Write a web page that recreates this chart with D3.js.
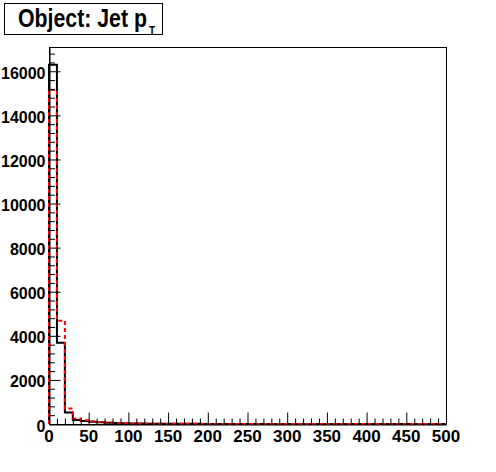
<!DOCTYPE html>
<html>
<head>
<meta charset="utf-8">
<script src="https://cdn.jsdelivr.net/npm/d3@7"></script>
<style>
  body { margin: 0; background: #fff; }
  svg { display: block; }
  text { font-family: "Liberation Sans", Arial, Helvetica, sans-serif; font-weight: bold; }
</style>
</head>
<body>
<div id="chart"></div>
<script>
// histogram bins: lower edges, 10 GeV wide
var binLow = [0, 10, 20, 30, 40, 50, 60, 70, 80, 90,
    100, 110, 120, 130, 140, 150, 160, 170, 180, 190,
    200, 210, 220, 230, 240, 250, 260, 270, 280, 290,
    300, 310, 320, 330, 340, 350, 360, 370, 380, 390,
    400, 410, 420, 430, 440, 450, 460, 470, 480, 490];

// black solid histogram
var blackCounts = [16300, 3690, 520, 185, 136, 104, 77, 59, 45, 32,
    25, 20, 17, 14, 12, 10, 8, 7, 6, 5,
    5, 4, 3, 3, 3, 2, 2, 2, 2, 2,
    1, 1, 1, 1, 1, 1, 1, 1, 1, 1,
    1, 0, 0, 0, 0, 0, 0, 0, 0, 0];

// red dashed histogram
var redCounts = [15150, 4685, 700, 245, 170, 122, 90, 68, 48, 36,
    28, 22, 18, 15, 13, 11, 9, 8, 7, 6,
    5, 4, 4, 3, 3, 3, 2, 2, 2, 2,
    2, 1, 1, 1, 1, 1, 1, 1, 1, 1,
    1, 1, 1, 0, 0, 0, 0, 0, 0, 0];

var xTicks = [0, 50, 100, 150, 200, 250, 300, 350, 400, 450, 500];
var yTicks = [0, 2000, 4000, 6000, 8000, 10000, 12000, 14000, 16000];

var W = 496, H = 472;
var frame = { left: 49, right: 446, top: 47, bottom: 424 };

var svg = d3.select('#chart').append('svg')
    .attr('width', W)
    .attr('height', H);

var x = d3.scaleLinear().domain([0, 500]).range([frame.left, frame.right]);
var y = d3.scaleLinear().domain([0, 17100]).range([frame.bottom, frame.top]);

// frame
svg.append('rect')
    .attr('x', frame.left + 0.5)
    .attr('y', frame.top + 0.5)
    .attr('width', frame.right - frame.left)
    .attr('height', frame.bottom - frame.top)
    .attr('fill', 'none')
    .attr('stroke', '#000')
    .attr('stroke-width', 1);

// step outline of a histogram
function stepPoints (counts) {
    var pts = [[0, 0]];
    binLow.forEach(function (lo, i) {
        pts.push([lo, counts[i]]);
    });
    pts.push([500, counts[counts.length - 1]]);
    pts.push([500, 0]);
    return pts;
}

var line = d3.line()
    .x(function (d) { return x(d[0]); })
    .y(function (d) { return y(d[1]); })
    .curve(d3.curveStepAfter);

svg.append('path')
    .attr('d', line(stepPoints(blackCounts)))
    .attr('fill', 'none')
    .attr('stroke', '#000')
    .attr('stroke-width', 2);

svg.append('path')
    .attr('d', line(stepPoints(redCounts)))
    .attr('fill', 'none')
    .attr('stroke', '#ff0000')
    .attr('stroke-width', 2)
    .attr('stroke-dasharray', '4,3');

// axes (ROOT style: ticks inside the frame)
var xAxis = d3.axisTop(x)
    .tickValues(d3.range(0, 501, 10))
    .tickSize(0)
    .tickFormat('');
var xG = svg.append('g').attr('transform', 'translate(0,' + (frame.bottom + 0.5) + ')');
xG.call(xAxis);
xG.select('.domain').attr('stroke', '#000');
xG.selectAll('.tick line')
    .attr('y2', function (d) { return d % 50 === 0 ? -12 : -6; })
    .attr('stroke', '#000');

xG.selectAll('text.lab')
    .data(xTicks)
    .enter().append('text')
    .attr('class', 'lab')
    .attr('x', function (d) { return x(d); })
    .attr('y', 17)
    .attr('text-anchor', 'middle')
    .attr('fill', '#000')
    .attr('font-family', '"Liberation Sans", Arial, sans-serif')
    .attr('font-size', 17)
    .text(function (d) { return d; });

var yAxis = d3.axisRight(y)
    .tickValues(d3.range(0, 17001, 400))
    .tickSize(0)
    .tickFormat('');
var yG = svg.append('g').attr('transform', 'translate(' + (frame.left + 0.5) + ',0)');
yG.call(yAxis);
yG.select('.domain').attr('stroke', '#000');
yG.selectAll('.tick line')
    .attr('x2', function (d) { return d % 2000 === 0 ? 11 : 5.5; })
    .attr('stroke', '#000');

yG.selectAll('text.lab')
    .data(yTicks)
    .enter().append('text')
    .attr('class', 'lab')
    .attr('x', -4)
    .attr('y', function (d) { return y(d) + 7.5; })
    .attr('text-anchor', 'end')
    .attr('fill', '#000')
    .attr('font-family', '"Liberation Sans", Arial, sans-serif')
    .attr('font-size', 16)
    .text(function (d) { return d; });

// title box
var title = svg.append('g');
title.append('rect')
    .attr('x', 4.5)
    .attr('y', 3.5)
    .attr('width', 158)
    .attr('height', 31)
    .attr('fill', '#fff')
    .attr('stroke', '#000');
var t = title.append('text')
    .attr('transform', 'translate(18,27) scale(1,1.2)')
    .attr('font-size', 21.3);
t.append('tspan').text('Object: Jet p');
t.append('tspan')
    .attr('font-size', 10)
    .attr('dx', 2)
    .attr('dy', 6.5)
    .text('T');
</script>
</body>
</html>
